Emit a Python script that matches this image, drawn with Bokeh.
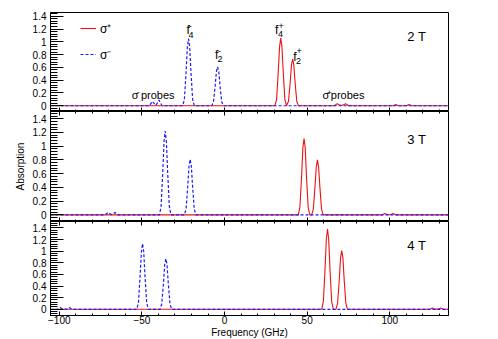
from bokeh.plotting import figure
from bokeh.models import (Range1d, LinearAxis, FixedTicker, CustomJSTickFormatter,
                          Label, Legend, LegendItem)
from bokeh.layouts import column
from bokeh.embed import file_html
from bokeh.resources import INLINE

FONT = "Liberation Sans"

# ---------------- data ----------------
X_TICKS = [-100, -50, 0, 50, 100]
X_MINOR = [-100, -90, -80, -70, -60, -50, -40, -30, -20, -10, 0, 10, 20, 30,
           40, 50, 60, 70, 80, 90, 100, 110, 120, 130]
Y_TICKS = [0, 0.2, 0.4, 0.6, 0.8, 1.0, 1.2, 1.4]
Y_MINOR = [-0.08, -0.04, 0, 0.04, 0.08, 0.12, 0.16, 0.2, 0.24, 0.28, 0.32, 0.36, 0.4,
           0.44, 0.48, 0.52, 0.56, 0.6, 0.64, 0.68, 0.72, 0.76, 0.8, 0.84, 0.88,
           0.92, 0.96, 1.0, 1.04, 1.08, 1.12, 1.16, 1.2, 1.24, 1.28, 1.32, 1.36,
           1.4, 1.44, 1.48]

# 2 T, sigma- (blue dashed)
t2_minus_x = [-105.3, -45.4, -44.3, -43.6, -42.8, -41.6, -40.4, -39.6, -38.9, -37.8,
              -25.3, -24.3, -23.3, -22.5, -21.8, -21.1, -20.3, -19.3, -18.3,
              -7.7, -6.7, -5.7, -4.9, -4.2, -3.5, -2.7, -1.7, -0.7, 135.5]
t2_minus_y = [0, 0, 0.045, 0.07, 0.04, 0.005, 0.05, 0.09, 0.05, 0,
              0, 0.1, 0.52, 0.92, 1.05, 0.92, 0.52, 0.1, 0,
              0, 0.06, 0.3, 0.54, 0.61, 0.54, 0.3, 0.06, 0, 0]
# 2 T, sigma+ (red solid)
t2_plus_x = [-105.3, 30.5, 31.5, 32.5, 33.3, 34.0, 34.7, 35.5, 36.5, 37.5,
             38.7, 39.7, 40.5, 41.2, 41.9, 42.7, 43.7, 44.7,
             66.5, 67.4, 68.2, 69.0, 70.7, 72.4, 73.2, 74.0, 75.0,
             102.0, 103.6, 105.2, 110.0, 111.6, 113.2, 135.5]
t2_plus_y = [0, 0, 0.1, 0.53, 0.93, 1.06, 0.93, 0.53, 0.1, 0,
             0.07, 0.36, 0.64, 0.73, 0.64, 0.36, 0.07, 0,
             0, 0.02, 0.03, 0.02, 0.003, 0.02, 0.03, 0.02, 0,
             0, 0.02, 0, 0, 0.02, 0, 0]

# 3 T
t3_minus_x = [-105.3, -72.2, -71.2, -70.4, -69.6, -68.4, -67.1, -66.3, -65.5, -64.5,
              -39.4, -38.4, -37.4, -36.6, -35.9, -35.2, -34.4, -33.4, -32.4,
              -24.3, -23.3, -22.3, -21.5, -20.8, -20.1, -19.3, -18.3, -17.3, 135.5]
t3_minus_y = [0, 0, 0.02, 0.035, 0.02, 0.003, 0.02, 0.035, 0.02, 0,
              0, 0.12, 0.61, 1.07, 1.22, 1.07, 0.61, 0.12, 0,
              0, 0.08, 0.4, 0.71, 0.81, 0.71, 0.4, 0.08, 0, 0]
t3_plus_x = [-105.3, 44.6, 45.6, 46.6, 47.4, 48.1, 48.8, 49.6, 50.6, 51.6,
             52.7, 53.7, 54.7, 55.5, 56.2, 56.9, 57.7, 58.7, 59.7,
             95.5, 97.0, 98.5, 100.5, 102.0, 103.5, 135.5]
t3_plus_y = [0, 0, 0.11, 0.55, 0.98, 1.11, 0.98, 0.55, 0.11, 0,
             0, 0.08, 0.4, 0.7, 0.8, 0.7, 0.4, 0.08, 0,
             0, 0.02, 0.002, 0.002, 0.02, 0, 0]

# 4 T
t4_minus_x = [-105.3, -101.0, -99.4, -97.8, -95.6, -94.0, -92.4,
              -53.1, -52.1, -51.1, -50.3, -49.6, -48.9, -48.1, -47.1, -46.1,
              -39.0, -38.0, -37.0, -36.2, -35.5, -34.8, -34.0, -33.0, -32.0, 135.5]
t4_minus_y = [0, 0, 0.03, 0.002, 0.002, 0.03, 0,
              0, 0.11, 0.56, 0.99, 1.13, 0.99, 0.56, 0.11, 0,
              0, 0.09, 0.43, 0.77, 0.87, 0.77, 0.43, 0.09, 0, 0]
t4_plus_x = [-105.3, 58.8, 59.8, 60.8, 61.6, 62.3, 63.0, 63.8, 64.8, 65.8,
             67.4, 68.4, 69.4, 70.2, 70.9, 71.6, 72.4, 73.4, 74.4,
             124.2, 125.7, 127.2, 129.3, 130.8, 132.3, 135.5]
t4_plus_y = [0, 0, 0.14, 0.69, 1.21, 1.38, 1.21, 0.69, 0.14, 0,
             0, 0.1, 0.5, 0.89, 1.01, 0.89, 0.5, 0.1, 0,
             0, 0.02, 0.002, 0.002, 0.02, 0, 0]

FIELDS = ["2 T", "3 T", "4 T"]

RED = "#ee1111"
BLUE = "#1a1aff"

x_range = Range1d(-105.3, 135.5)

tick_fmt_x = CustomJSTickFormatter(code="return tick < 0 ? '\\u2212' + Math.abs(tick) : String(tick);")
tick_fmt_none = CustomJSTickFormatter(code="return '';")
tick_fmt_y = CustomJSTickFormatter(code="return String(Math.round(tick*10)/10);")


def style_x_axis(ax, labels):
    ax.ticker = FixedTicker(ticks=X_TICKS, minor_ticks=X_MINOR)
    ax.major_tick_in = 4
    ax.major_tick_out = 0
    ax.minor_tick_in = 2
    ax.minor_tick_out = 0
    ax.axis_line_color = "black"
    ax.major_tick_line_color = "black"
    ax.minor_tick_line_color = "black"
    ax.major_label_text_font = FONT
    ax.major_label_text_font_size = "10px"
    ax.major_label_text_color = "black"
    if labels:
        ax.formatter = tick_fmt_x
        ax.major_label_standoff = 0
    else:
        ax.formatter = tick_fmt_none
        ax.major_label_standoff = 0


def make_panel(xm, ym, xp, yp, y_lo, y_hi, fh, top_axis, bottom_labels, ylabel, border_top):
    p = figure(x_range=x_range, y_range=Range1d(y_lo, y_hi), frame_width=398, frame_height=fh,
               output_backend="svg", toolbar_location=None,
               min_border_left=50, min_border_right=10, min_border_top=border_top,
               min_border_bottom=0)
    p.grid.visible = False
    p.outline_line_color = "black"
    p.outline_line_alpha = 1
    p.outline_line_width = 1
    p.background_fill_color = "white"
    p.border_fill_color = "white"

    r_plus = p.line(xp, yp, line_color=RED, line_width=1.1)
    r_minus = p.line(xm, ym, line_color=BLUE, line_width=1.2, line_dash="3 2")

    style_x_axis(p.xaxis[0], bottom_labels)
    if bottom_labels:
        p.xaxis[0].axis_label = "Frequency (GHz)"
        p.xaxis[0].axis_label_text_font = FONT
        p.xaxis[0].axis_label_text_font_size = "10px"
        p.xaxis[0].axis_label_text_font_style = "normal"
        p.xaxis[0].axis_label_standoff = 0
        p.xaxis[0].axis_label_text_color = "black"
    if top_axis:
        ta = LinearAxis()
        style_x_axis(ta, False)
        p.add_layout(ta, "above")

    ya = p.yaxis[0]
    ya.ticker = FixedTicker(ticks=Y_TICKS, minor_ticks=Y_MINOR)
    ya.formatter = tick_fmt_y
    ya.major_tick_in = 13
    ya.major_tick_out = 0
    ya.minor_tick_in = 7
    ya.minor_tick_out = 0
    ya.axis_line_color = "black"
    ya.major_tick_line_color = "black"
    ya.minor_tick_line_color = "black"
    ya.major_label_text_font = FONT
    ya.major_label_text_font_size = "10px"
    ya.major_label_text_color = "black"
    ya.major_label_standoff = 4
    if ylabel:
        ya.axis_label = ylabel
        ya.axis_label_text_font = FONT
        ya.axis_label_text_font_size = "10px"
        ya.axis_label_text_font_style = "normal"
        ya.axis_label_text_color = "black"
        ya.axis_label_standoff = 4

    return p, r_plus, r_minus


def lab(p, x, y, text, size):
    p.add_layout(Label(x=x, y=y, text=text, text_font=FONT, text_font_size=size,
                       text_color="black", text_baseline="alphabetic", text_align="left"))


p1, r1p, r1m = make_panel(t2_minus_x, t2_minus_y, t2_plus_x, t2_plus_y, -0.09, 1.46, 99,
                          False, False, None, 12)
p2, _, _ = make_panel(t3_minus_x, t3_minus_y, t3_plus_x, t3_plus_y, -0.097, 1.506, 110,
                      True, False, "Absorption", 0)
p3, _, _ = make_panel(t4_minus_x, t4_minus_y, t4_plus_x, t4_plus_y, -0.107, 1.51, 94,
                      True, True, None, 0)

# panel field labels
lab(p1, 110.6, 1.08, FIELDS[0], "13px")
lab(p2, 110.6, 1.094, FIELDS[1], "13px")
lab(p3, 110.6, 1.10, FIELDS[2], "13px")

# peak annotations (top panel)
lab(p1, -23.0, 1.19, "f", "12px")
lab(p1, -21.8, 1.115, "4", "9px")
lab(p1, -21.6, 1.25, "-", "9px")
lab(p1, -5.7, 0.80, "f", "12px")
lab(p1, -4.2, 0.725, "2", "9px")
lab(p1, -4.0, 0.865, "-", "9px")
lab(p1, 30.6, 1.19, "f", "12px")
lab(p1, 32.4, 1.12, "4", "9px")
lab(p1, 32.6, 1.245, "+", "9px")
lab(p1, 41.5, 0.77, "f", "12px")
lab(p1, 43.3, 0.70, "2", "9px")
lab(p1, 43.5, 0.855, "+", "9px")

# probe annotations
lab(p1, -56.2, 0.165, "\u03c3", "11px")
lab(p1, -53.0, 0.22, "-", "8px")
lab(p1, -50.6, 0.165, "probes", "11px")
lab(p1, 59.3, 0.165, "\u03c3", "11px")
lab(p1, 62.0, 0.205, "+", "8px")
lab(p1, 64.3, 0.165, "probes", "11px")

legend = Legend(items=[LegendItem(label="\u03c3\u207a", renderers=[r1p]),
                       LegendItem(label="\u03c3\u207b", renderers=[r1m])],
                location=(30, 48), glyph_width=16, glyph_height=18, label_height=18,
                label_standoff=4, spacing=8, padding=0, margin=0,
                border_line_color=None, background_fill_alpha=0,
                label_text_font=FONT, label_text_font_size="12px",
                label_text_baseline="middle", label_text_color="black")
p1.add_layout(legend)

layout = column(p1, p2, p3, spacing=0)

open("out.html", "w").write(file_html(layout, INLINE))
